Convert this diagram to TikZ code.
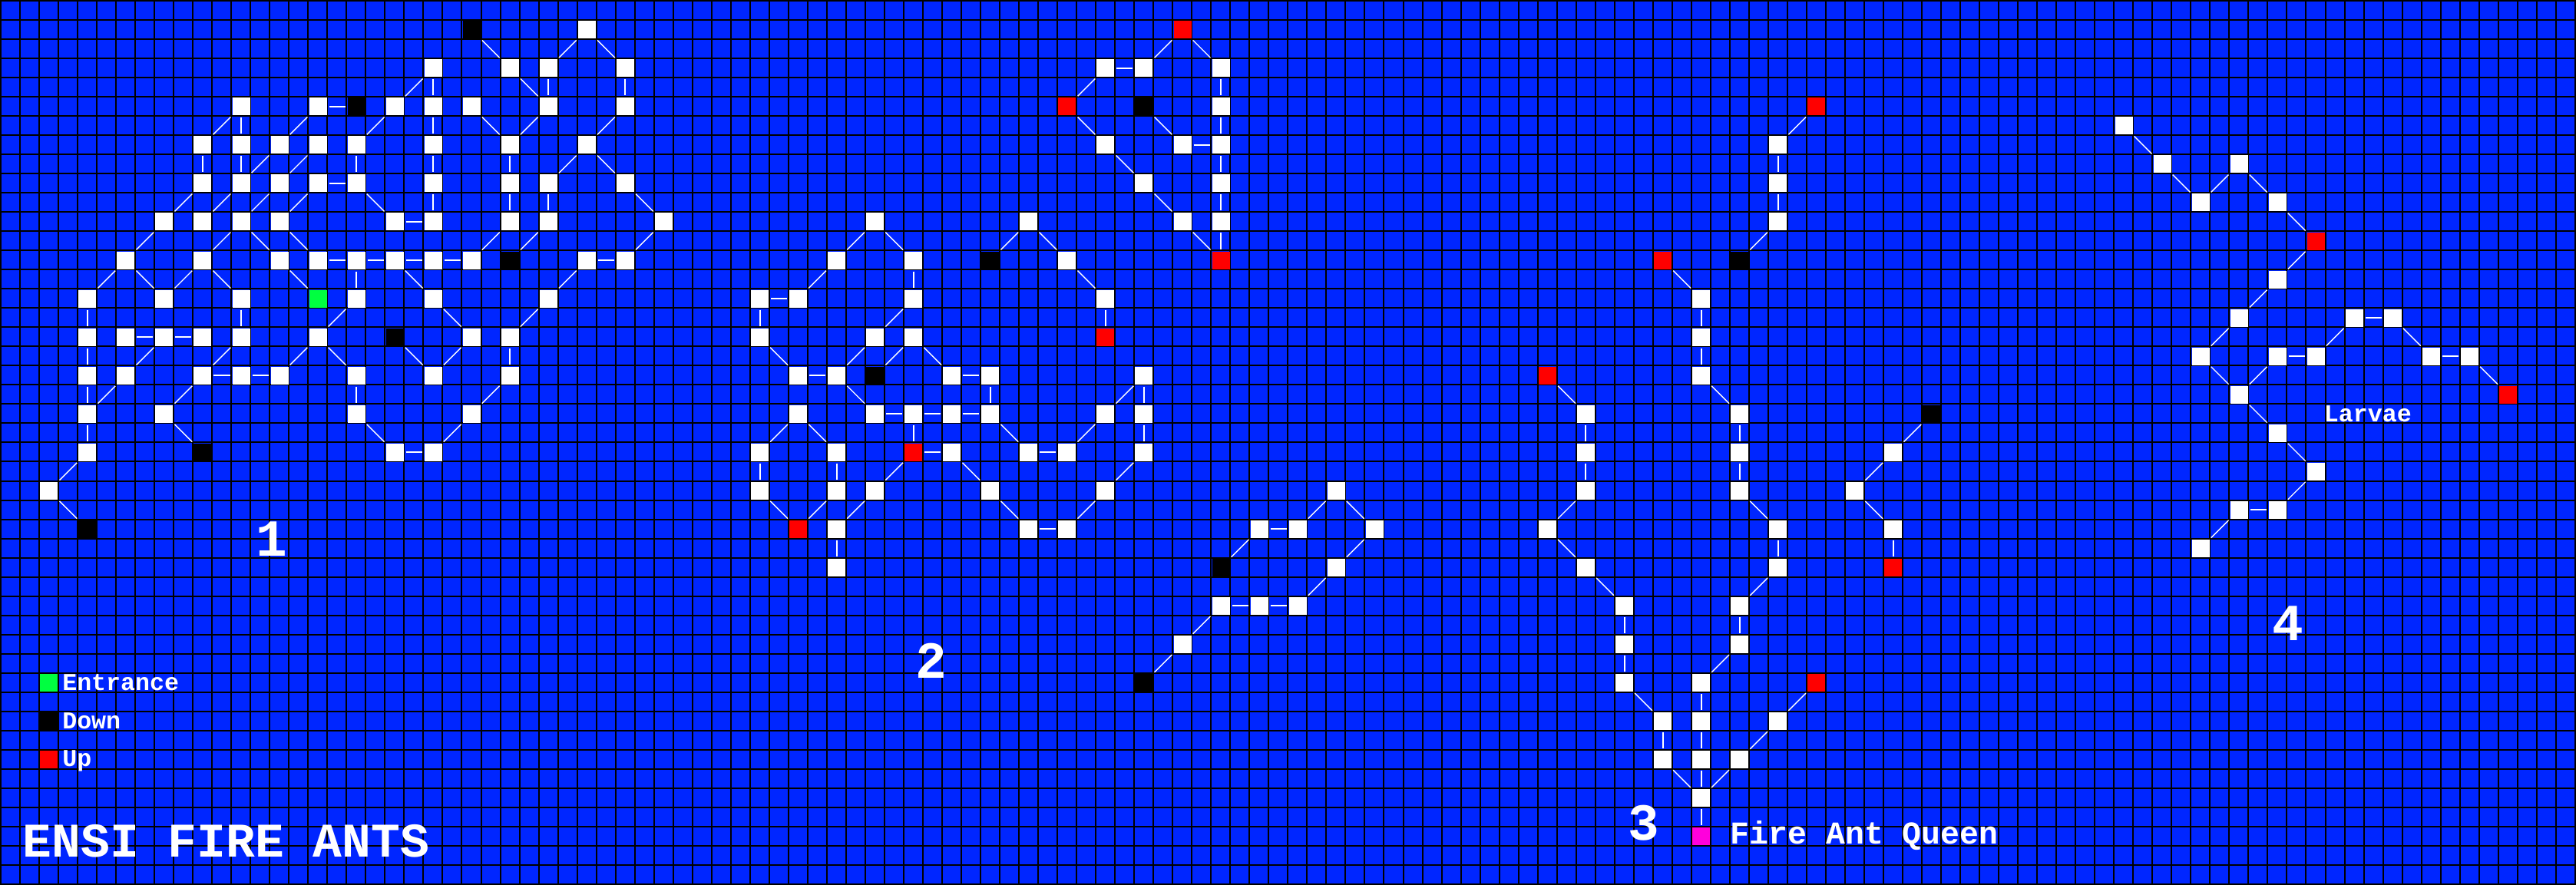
\documentclass[tikz,border=0pt]{standalone}
\usepackage{xcolor}
\usepackage{fontspec}
\newfontfamily\mapfont{Liberation Mono}
\definecolor{mapblue}{RGB}{0,38,255}
\definecolor{entrygreen}{RGB}{0,255,64}
\definecolor{queenpink}{RGB}{255,0,220}
\tikzset{
  room/.style={rectangle,fill=white,minimum size=0.23cm,inner sep=0pt,outer sep=0pt},
  straightlink/.style={draw=white,line width=0.02cm,shorten >=0.03cm,shorten <=0.03cm},
  diaglink/.style={draw=white,line width=0.014cm,shorten >=0.03cm,shorten <=0.03cm},
  gridline/.style={draw=black,line width=0.02cm},
  maptext/.style={text=white,inner sep=0pt,font=\mapfont\bfseries\fontsize{#1}{#1}\selectfont}
}
\begin{document}
\begin{tikzpicture}[x=0.2502cm,y=-0.2502cm]
      \useasboundingbox (0,0) rectangle (134.09,46.08);
      \fill [mapblue] (0,0) rectangle (134.09,46.08);
      \foreach \k in {0,...,134} \draw [gridline] (\k+0.04,0) -- (\k+0.04,46.08);
      \foreach \k in {0,...,46} \draw [gridline] (0,\k+0.04) -- (134.09,\k+0.04);
      \foreach \r/\cols in {1/{30},3/{22,26,28,32,57,59,63},5/{12,16,20,22,24,28,32,63},6/{110},
        7/{10,12,14,16,18,22,26,30,57,61,63,92},8/{112,116},9/{10,12,14,16,18,22,26,28,32,59,63,92},
        10/{114,118},11/{8,10,12,14,20,22,26,28,34,45,53,61,63,92},13/{6,10,14,16,18,20,22,24,30,32,43,47,55},
        14/{118},15/{4,8,12,18,22,28,39,41,47,57,88},16/{116,122,124},17/{4,6,8,10,12,16,24,26,39,45,47,88},
        18/{114,118,120,126,128},19/{4,6,10,12,14,18,22,26,41,43,49,51,59,88},20/{116},
        21/{4,8,18,24,41,45,47,49,51,57,59,82,90},22/{118},23/{4,20,22,39,43,49,53,55,59,82,90,98},24/{120},
        25/{2,39,43,45,51,57,69,82,90,96},26/{116,118},27/{43,53,55,65,67,71,80,92,98},28/{114},
        29/{43,69,82,92},31/{63,65,67,84,90},33/{61,84,90},35/{84,88},37/{86,88,92},39/{86,88,90},41/{88}}
        \foreach \c in \cols \node [room] (n\c-\r) at (\c+0.55,\r+0.55) {};
      \foreach \c/\r in {24/1,18/5,26/13,20/17,10/23,4/27,59/5,51/13,45/19,63/29,59/35,90/13,100/21,2/37}
        \node [room,fill=black] (n\c-\r) at (\c+0.55,\r+0.55) {};
      \foreach \c/\r in {61/1,55/5,63/13,57/17,47/23,41/27,94/5,86/13,80/19,98/29,94/35,120/12,130/20,2/39}
        \node [room,fill=red] (n\c-\r) at (\c+0.55,\r+0.55) {};
      \foreach \c/\r in {16/15,2/35}
        \node [room,fill=entrygreen] (n\c-\r) at (\c+0.55,\r+0.55) {};
      \node [room,fill=queenpink] (n88-43) at (88.55,43.55) {};
      \foreach \ca/\ra/\cb/\rb in {24/1/26/3,28/3/30/1,30/1/32/3,20/5/22/3,26/3/28/5,10/7/12/5,14/7/16/5,18/7/20/5,
        24/5/26/7,26/7/28/5,30/7/32/5,12/9/14/7,14/9/16/7,28/9/30/7,30/7/32/9,8/11/10/9,10/11/12/9,12/11/14/9,
        14/11/16/9,18/9/20/11,32/9/34/11,6/13/8/11,10/13/12/11,12/11/14/13,14/11/16/13,24/13/26/11,26/13/28/11,
        32/13/34/11,4/15/6/13,6/13/8/15,8/15/10/13,10/13/12/15,14/13/16/15,20/13/22/15,28/15/30/13,16/17/18/15,
        22/15/24/17,26/17/28/15,6/19/8/17,10/19/12/17,14/19/16/17,16/17/18/19,20/17/22/19,22/19/24/17,4/21/6/19,
        8/21/10/19,24/21/26/19,8/21/10/23,18/21/20/23,22/23/24/21,2/25/4/23,2/25/4/27,
        59/3/61/1,61/1/63/3,55/5/57/3,55/5/57/7,59/5/61/7,57/7/59/9,59/9/61/11,43/13/45/11,45/11/47/13,51/13/53/11,
        53/11/55/13,61/11/63/13,41/15/43/13,55/13/57/15,45/17/47/15,39/17/41/19,43/19/45/17,45/19/47/17,47/17/49/19,
        43/19/45/21,57/21/59/19,39/23/41/21,41/21/43/23,51/21/53/23,55/23/57/21,45/25/47/23,49/23/51/25,57/25/59/23,
        39/25/41/27,41/27/43/25,43/27/45/25,51/25/53/27,55/27/57/25,67/27/69/25,69/25/71/27,63/29/65/27,69/29/71/27,
        67/31/69/29,61/33/63/31,59/35/61/33,
        92/7/94/5,90/13/92/11,86/13/88/15,88/19/90/21,80/19/82/21,80/27/82/25,80/27/82/29,82/29/84/31,90/25/92/27,
        90/31/92/29,88/35/90/33,84/35/86/37,86/39/88/41,88/41/90/39,90/39/92/37,92/37/94/35,98/23/100/21,96/25/98/23,
        96/25/98/27,
        110/6/112/8,112/8/114/10,114/10/116/8,116/8/118/10,118/10/120/12,118/14/120/12,116/16/118/14,114/18/116/16,
        114/18/116/20,116/20/118/18,120/18/122/16,124/16/126/18,128/18/130/20,116/20/118/22,118/22/120/24,
        118/26/120/24,114/28/116/26}
        \draw [diaglink] (n\ca-\ra) -- (n\cb-\rb);
      \foreach \ca/\ra/\cb/\rb in {22/3/22/5,28/3/28/5,32/3/32/5,12/5/12/7,22/5/22/7,10/7/10/9,12/7/12/9,18/7/18/9,
        22/7/22/9,26/7/26/9,22/9/22/11,26/9/26/11,28/9/28/11,18/13/18/15,4/15/4/17,12/15/12/17,4/17/4/19,26/17/26/19,
        4/19/4/21,18/19/18/21,4/21/4/23,16/5/18/5,16/9/18/9,20/11/22/11,16/13/18/13,18/13/20/13,20/13/22/13,
        22/13/24/13,30/13/32/13,6/17/8/17,8/17/10/17,10/19/12/19,12/19/14/19,20/23/22/23,
        57/3/59/3,63/3/63/5,63/5/63/7,61/7/63/7,63/7/63/9,63/9/63/11,63/11/63/13,47/13/47/15,39/15/41/15,39/15/39/17,
        57/15/57/17,41/19/43/19,49/19/51/19,51/19/51/21,59/19/59/21,45/21/47/21,47/21/49/21,49/21/51/21,47/21/47/23,
        59/21/59/23,47/23/49/23,53/23/55/23,39/23/39/25,43/23/43/25,53/27/55/27,65/27/67/27,43/27/43/29,63/31/65/31,
        65/31/67/31,
        92/7/92/9,92/9/92/11,88/15/88/17,88/17/88/19,82/21/82/23,82/23/82/25,90/21/90/23,90/23/90/25,92/27/92/29,
        90/31/90/33,84/31/84/33,84/33/84/35,88/35/88/37,88/37/88/39,88/39/88/41,88/41/88/43,86/37/86/39,98/27/98/29,
        118/18/120/18,122/16/124/16,126/18/128/18,116/26/118/26}
        \draw [straightlink] (n\ca-\ra) -- (n\cb-\rb);
      \node (entrance) at (3.22,35.95) [anchor=base west,maptext=9] {Entrance};
      \node (down) at (3.22,37.95) [anchor=base west,maptext=9] {Down};
      \node (up) at (3.22,39.9) [anchor=base west,maptext=9] {Up};
      \node (title) at (1.16,44.62) [anchor=base west,maptext=17.93] {ENSI FIRE ANTS};
      \node (queen) at (90.05,43.96) [anchor=base west,maptext=11.8] {Fire Ant Queen};
      \node (larvae) at (120.95,21.97) [anchor=base west,maptext=9] {Larvae};
      \node (one) at (14.16,28.05) [maptext=19.3] {1};
      \node (two) at (48.47,34.4) [maptext=19.3] {2};
      \node (three) at (85.55,42.85) [maptext=19.3] {3};
      \node (four) at (119.1,32.45) [maptext=19.3] {4};
    \end{tikzpicture}
\end{document}
